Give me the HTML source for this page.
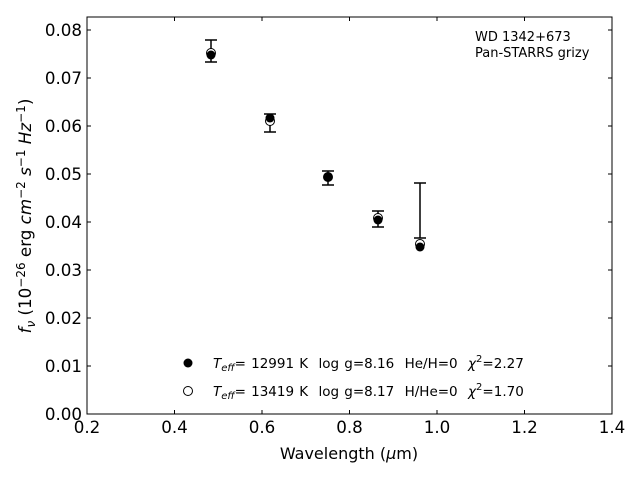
<!DOCTYPE html>
<html><head><style>body{margin:0;background:#fff}svg{display:block}text{font-family:"DejaVu Sans","Liberation Sans",sans-serif;white-space:pre}</style></head><body>
<svg width="640" height="480" viewBox="0 0 640 480" xmlns="http://www.w3.org/2000/svg" xml:space="preserve">
<rect x="87" y="17" width="525" height="397" fill="none" stroke="#000" stroke-width="1"/>
<g stroke="#000" stroke-width="1">
<path d="M87 414v-4M174.5 414v-4M262 414v-4M349.5 414v-4M437 414v-4M524.5 414v-4M612 414v-4M87 17v4M174.5 17v4M262 17v4M349.5 17v4M437 17v4M524.5 17v4M612 17v4"/>
<path d="M87 414h4M87 366h4M87 318h4M87 270h4M87 222h4M87 174h4M87 126h4M87 78h4M87 30h4M612 414h-4M612 366h-4M612 318h-4M612 270h-4M612 222h-4M612 174h-4M612 126h-4M612 78h-4M612 30h-4"/>
</g>
<g font-size="16.7" text-anchor="middle">
<text x="87" y="433">0.2</text><text x="174.5" y="433">0.4</text><text x="262" y="433">0.6</text><text x="349.5" y="433">0.8</text><text x="437" y="433">1.0</text><text x="524.5" y="433">1.2</text><text x="612" y="433">1.4</text>
</g>
<g font-size="16.7" text-anchor="end">
<text x="82" y="420">0.00</text><text x="82" y="372">0.01</text><text x="82" y="324">0.02</text><text x="82" y="276">0.03</text><text x="82" y="228">0.04</text><text x="82" y="180">0.05</text><text x="82" y="132">0.06</text><text x="82" y="84">0.07</text><text x="82" y="36">0.08</text>
</g>
<text x="349" y="459" font-size="16" text-anchor="middle">Wavelength (<tspan font-style="italic">μ</tspan>m)</text>
<text transform="translate(31,216) rotate(-90)" font-size="16.7" text-anchor="middle"><tspan font-style="italic">f<tspan font-size="12" dy="4">ν</tspan></tspan><tspan dy="-4"> (10</tspan><tspan font-size="12" dy="-6">−26</tspan><tspan dy="6"> erg </tspan><tspan font-style="italic">cm</tspan><tspan font-size="12" dy="-6">−2</tspan><tspan dy="6" font-style="italic"> s</tspan><tspan font-size="12" dy="-6">−1</tspan><tspan dy="6" font-style="italic"> Hz</tspan><tspan font-size="12" dy="-6">−1</tspan><tspan dy="6">)</tspan></text>
<text x="475" y="41" font-size="13">WD 1342+673</text>
<text x="475" y="57" font-size="13">Pan-STARRS grizy</text>
<g stroke="#000" stroke-width="1.5">
<path d="M211 40V62M205 40h12M205 62h12"/>
<path d="M270 114V132M264 114h12M264 132h12"/>
<path d="M328 171V185M322 171h12M322 185h12"/>
<path d="M378 211V227M372 211h12M372 227h12"/>
<path d="M420 183V238M414 183h12M414 238h12"/>
</g>
<g fill="#fff" stroke="#000" stroke-width="1">
<circle cx="211" cy="53" r="4.5"/><circle cx="270" cy="121" r="4.5"/><circle cx="328" cy="177" r="4.5"/><circle cx="378" cy="218" r="4.5"/><circle cx="420" cy="244" r="4.5"/>
</g>
<g fill="#000">
<circle cx="211" cy="55" r="4.5"/><circle cx="270" cy="118" r="4.5"/><circle cx="328" cy="177" r="4.5"/><circle cx="378" cy="220" r="4.5"/><circle cx="420" cy="247" r="4.5"/>
</g>
<circle cx="188" cy="363" r="4.5" fill="#000"/>
<circle cx="188" cy="391" r="4.5" fill="#fff" stroke="#000"/>
<g font-size="13.5" word-spacing="0.9">
<text x="213" y="368"><tspan font-style="italic">T<tspan font-size="10" dy="3">eff</tspan></tspan><tspan dy="-3">= 12991 K  log g=8.16  He/H=0  </tspan><tspan font-style="italic">χ</tspan><tspan font-size="10" dy="-6">2</tspan><tspan dy="6">=2.27</tspan></text>
<text x="213" y="396"><tspan font-style="italic">T<tspan font-size="10" dy="3">eff</tspan></tspan><tspan dy="-3">= 13419 K  log g=8.17  H/He=0  </tspan><tspan font-style="italic">χ</tspan><tspan font-size="10" dy="-6">2</tspan><tspan dy="6">=1.70</tspan></text>
</g>
</svg>
</body></html>
